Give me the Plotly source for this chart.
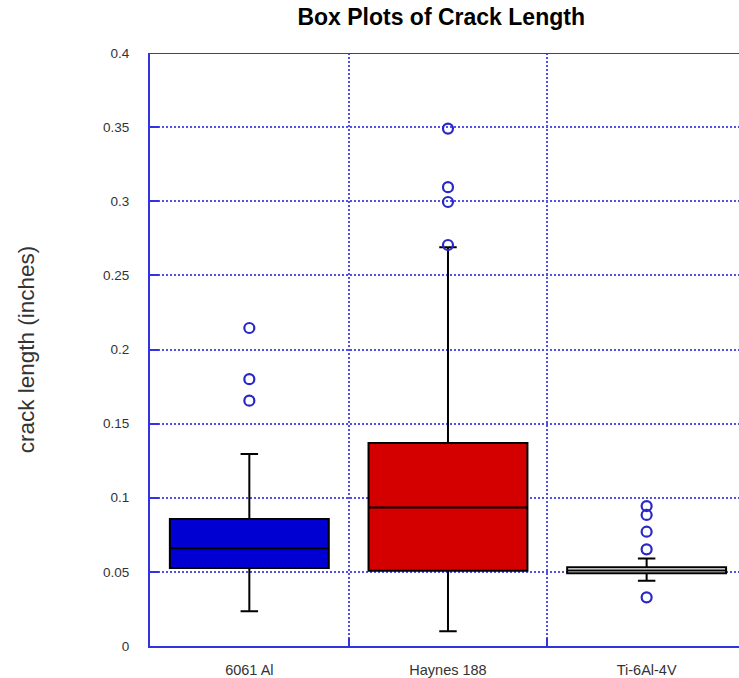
"""Box plots of crack length for three alloys."""
import plotly.graph_objects as go

# Categories and box statistics
materials = ['6061 Al', 'Haynes 188', 'Ti-6Al-4V']
q1 = [0.0526, 0.0508, 0.0490]
medians = [0.0659, 0.0935, 0.0510]
q3 = [0.0857, 0.1370, 0.0531]
lower_whisker = [0.0234, 0.0099, 0.0440]
upper_whisker = [0.1295, 0.2690, 0.0590]

# Outliers per material
outliers = {
    '6061 Al': [0.2145, 0.1800, 0.1655],
    'Haynes 188': [0.3490, 0.3095, 0.2995, 0.2705],
    'Ti-6Al-4V': [0.0944, 0.0884, 0.0771, 0.0652, 0.0328],
}

box_colors = ['rgb(0,0,210)', 'rgb(212,0,0)', 'white']

y_ticks = [0, 0.05, 0.1, 0.15, 0.2, 0.25, 0.3, 0.35, 0.4]
y_tick_text = ['0', '0.05', '0.1', '0.15', '0.2', '0.25', '0.3', '0.35', '0.4']

AXIS_BLUE = 'rgb(50,50,225)'
GRID_BLUE = 'rgb(80,80,235)'
FONT = 'Liberation Sans, Arial, sans-serif'

fig = go.Figure()

for i, name in enumerate(materials):
    fig.add_trace(go.Box(
        x=[name],
        q1=[q1[i]],
        median=[medians[i]],
        q3=[q3[i]],
        lowerfence=[lower_whisker[i]],
        upperfence=[upper_whisker[i]],
        boxpoints=False,
        fillcolor=box_colors[i],
        line=dict(color='black', width=2),
        width=0.8,
        whiskerwidth=0.11,
        showlegend=False,
    ))

for name in materials:
    fig.add_trace(go.Scatter(
        x=[name] * len(outliers[name]),
        y=outliers[name],
        mode='markers',
        marker=dict(symbol='circle-open', size=10,
                    color='rgb(40,40,200)', line=dict(width=2.2)),
        showlegend=False,
    ))

# top border of the frame (right edge is outside the picture)
fig.add_shape(type='line', xref='paper', x0=0, x1=1, yref='y', y0=0.4, y1=0.4,
              line=dict(color=AXIS_BLUE, width=2))

fig.update_layout(
    width=739,
    height=678,
    margin=dict(l=150, r=0, t=53, b=32),
    paper_bgcolor='white',
    plot_bgcolor='white',
    font=dict(family=FONT, color='#333333', size=12),
    title=dict(
        text='<b>Box Plots of Crack Length</b>',
        x=0.597, xanchor='center', y=0.975, yanchor='middle',
        font=dict(family=FONT, size=23, color='black'),
    ),
    xaxis=dict(
        type='category',
        categoryorder='array',
        categoryarray=materials,
        range=[-0.5, 2.465],
        tickson='boundaries',
        ticks='inside',
        ticklen=8,
        tickwidth=2,
        tickcolor=AXIS_BLUE,
        showline=True,
        linecolor=AXIS_BLUE,
        linewidth=2,
        showgrid=True,
        gridcolor=GRID_BLUE,
        griddash='2px,2px',
        gridwidth=1.6,
        zeroline=False,
        ticklabelstandoff=10,
        tickfont=dict(size=14.5, color='#333333'),
    ),
    yaxis=dict(
        range=[0, 0.4],
        tickvals=y_ticks,
        ticktext=y_tick_text,
        ticks='inside',
        ticklen=9,
        tickwidth=2,
        tickcolor=AXIS_BLUE,
        showline=True,
        linecolor=AXIS_BLUE,
        linewidth=2,
        showgrid=True,
        gridcolor=GRID_BLUE,
        griddash='2px,2px',
        gridwidth=1.6,
        zeroline=False,
        ticklabelstandoff=16,
        tickfont=dict(size=13.5, color='#333333'),
        title=dict(text='crack length (inches)', standoff=62,
                   font=dict(size=22.5, color='#333333')),
    ),
)

fig.write_html("out.html", config={'displayModeBar': False},
               post_script="document.body.style.margin='0';")
